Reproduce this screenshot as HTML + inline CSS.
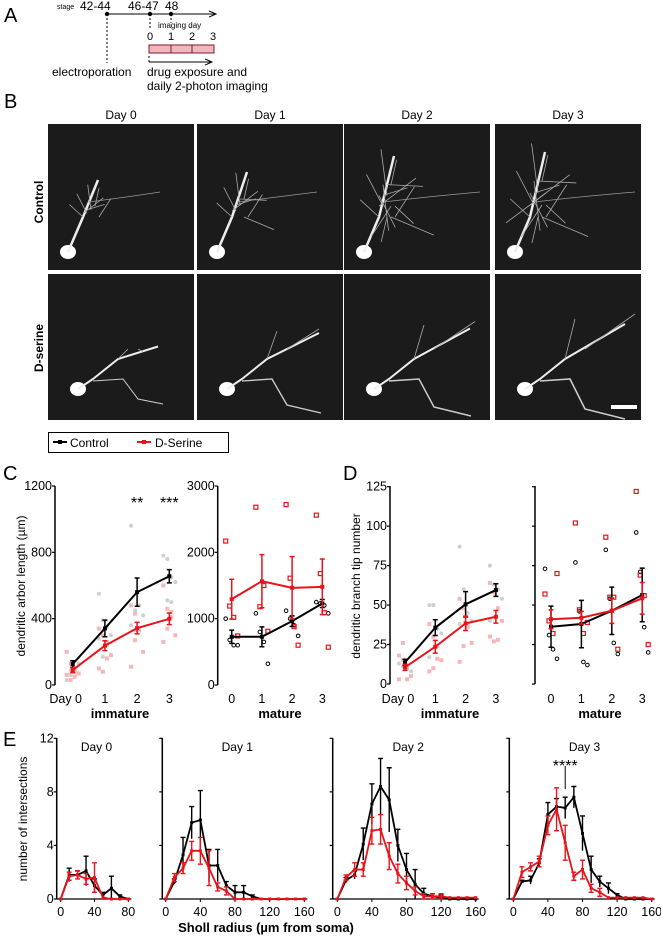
<!DOCTYPE html>
<html><head><meta charset="utf-8"><style>
html,body{margin:0;padding:0;background:#fff}
svg{display:block;font-family:"Liberation Sans",Arial,sans-serif}
</style></head><body>
<svg id="fig" width="661" height="936" viewBox="0 0 661 936" xmlns="http://www.w3.org/2000/svg">
<defs>
<marker id="arr" markerWidth="8" markerHeight="8" refX="7" refY="4" orient="auto"><path d="M0,1 L7,4 L0,7" fill="none" stroke="#000" stroke-width="1"/></marker>
</defs>
<!-- Panel A -->
<g>
<text x="4" y="22" font-size="20">A</text>
<text x="57" y="9" font-size="7">stage</text>
<text x="80" y="10" font-size="12">42-44</text>
<text x="128" y="10" font-size="12">46-47</text>
<text x="165" y="10" font-size="12">48</text>
<line x1="107" y1="14" x2="216" y2="14" stroke="#000" stroke-width="1" marker-end="url(#arr)"/>
<circle cx="107" cy="14" r="2.2" fill="#000"/><circle cx="150" cy="14" r="2.2" fill="#000"/><circle cx="171" cy="14" r="2.2" fill="#000"/>
<line x1="107" y1="14" x2="107" y2="63" stroke="#000" stroke-dasharray="2,2"/>
<line x1="150" y1="14" x2="150" y2="29" stroke="#000" stroke-dasharray="2,2"/>
<line x1="171" y1="14" x2="171" y2="23" stroke="#000" stroke-dasharray="2,2"/>
<text x="158" y="28" font-size="8">imaging day</text>
<text x="147" y="40" font-size="11">0</text><text x="168" y="40" font-size="11">1</text><text x="189" y="40" font-size="11">2</text><text x="210" y="40" font-size="11">3</text>
<rect x="149" y="45" width="65" height="8" fill="#f4b6bd" stroke="#7a1f2b" stroke-width="1"/>
<line x1="171" y1="45" x2="171" y2="53" stroke="#7a1f2b"/><line x1="192" y1="45" x2="192" y2="53" stroke="#7a1f2b"/>
<line x1="149" y1="56" x2="149" y2="63" stroke="#000" stroke-dasharray="2,2"/>
<line x1="149" y1="62" x2="212" y2="62" stroke="#000" marker-end="url(#arr)"/>
<text x="52" y="76" font-size="12">electroporation</text>
<text x="147" y="76" font-size="12">drug exposure and</text>
<text x="147" y="90" font-size="12">daily 2-photon imaging</text>
</g>
<!-- Panel B -->
<g id="panelB">
<text x="4" y="108" font-size="20">B</text>
<text transform="translate(43,202) rotate(-90)" font-size="12" font-weight="bold" text-anchor="middle">Control</text>
<text transform="translate(43,348) rotate(-90)" font-size="12" font-weight="bold" text-anchor="middle">D-serine</text>
</g>
<g id="panelC"></g>
<g id="panelD"></g>
<g id="panelE"></g>
<g>
<rect x="48.5" y="432.5" width="180" height="20" fill="#fff" stroke="#000" stroke-width="1"/>
<line x1="53" y1="442" x2="67" y2="442" stroke="#000" stroke-width="2"/><rect x="58" y="440" width="4" height="4" fill="#000"/>
<text x="70" y="447" font-size="12">Control</text>
<line x1="137" y1="442" x2="151" y2="442" stroke="#e8141b" stroke-width="2"/><rect x="142" y="440" width="4" height="4" fill="#e8141b"/>
<text x="155" y="447" font-size="12">D-Serine</text>
</g>
</svg>
<script>
// ---------- Panel C data ----------
const cDays = ["Day 0","1","2","3"];
const cMatDays = ["0","1","2","3"];
const cImmCtrl = [126,341,560,656];
const cImmCtrlErr = [20,50,85,40];
const cImmDs = [90,237,343,399];
const cImmDsErr = [15,30,35,35];
const cMatCtrl = [727,727,963,1229];
const cMatCtrlErr = [100,150,80,60];
const cMatDs = [1294,1565,1465,1480];
const cMatDsErr = [300,400,470,420];
const cImmTicks = [0,400,800,1200];
const cMatTicks = [0,1000,2000,3000];
const cImmCtrlPts = [[30,60,100,130,200,90],[550,390,350,300,280,170,240],[960,450,480,420,360,330],[780,760,650,620,600,510,500]];
const cImmDsPts = [[200,130,80,70,60,30,50],[340,300,260,180,100,80,160],[480,430,330,200,110,270],[600,460,440,300,260,340,410]];
const cMatCtrlPts = [[1000,680,600,600],[1080,800,650,320],[1120,1000,900,740],[1250,1230,1200,1080]];
const cMatDsPts = [[2170,1190,1020,740],[2680,1180,1500,810],[2720,1610,880,600],[2560,1680,1090,570]];
// ---------- Panel D data ----------
const dImmCtrl = [13.7,35.7,50.5,59.5];
const dImmCtrlErr = [2,5,8,4];
const dImmDs = [10.6,23.6,38.4,42.6];
const dImmDsErr = [2,4,4.5,4];
const dMatCtrl = [36.3,38,46.4,56.4];
const dMatCtrlErr = [13,15,15,17];
const dMatDs = [41,42,46.4,54.3];
const dMatDsErr = [6,4,8,10];
const dImmTicks = [0,25,50,75,100,125];
const dImmCtrlPts = [[13,11,3,8],[50,50,35,32,17],[87,60,45,40,38],[75,63,60,54,40]];
const dImmDsPts = [[18,15,10,5,3,26,3],[38,30,24,15,8,10,16],[54,48,36,26,14,24,38],[64,58,48,40,30,27,28]];
const dMatCtrlPts = [[73,31,22,16],[77,46,14,12],[85,54,26,19],[96,71,36,20]];
const dMatDsPts = [[57,40,32,70],[102,47,32,39],[93,55,55,22],[122,69,56,25]];
// ---------- Panel E data ----------
const eTitles = ["Day 0","Day 1","Day 2","Day 3"];
const eYTicks = [0,4,8,12];
const eCtrl = [
 [0,1.8,1.8,2.1,1.0,0.3,0.8,0.2,0],
 [0,1.3,3.3,5.7,5.9,2.5,2.5,1.0,0.5,0.5,0.2,0,0,0,0,0,0],
 [0,1.4,1.8,4.1,7.1,8.4,7.4,4.0,2.2,1.1,0.4,0.2,0.1,0,0,0,0],
 [0,1.3,1.4,2.7,6.3,6.9,6.8,7.6,4.9,2.2,1.3,0.8,0.3,0,0,0,0]];
const eCtrlErr = [
 [0,0.5,0.3,1.1,0.5,0.2,0.9,0.1,0],
 [0,0.2,1.3,1.2,2.2,1.2,1.2,0.3,0.5,0.5,0.1,0,0,0,0,0,0],
 [0,0.2,0.3,1.2,1.5,2.1,2.4,1.2,1.2,1.1,0.4,0.2,0.2,0,0,0,0],
 [0,0.1,0.3,0.3,0.9,0.6,0.8,0.8,1.3,1.0,0.4,0.4,0.1,0,0,0,0]];
const eDs = [
 [0,1.7,1.8,1.5,1.6,0.1,0,0,0],
 [0,1.6,2.3,3.6,3.6,2.3,0.9,0.6,0,0,0,0,0,0,0,0,0],
 [0,1.6,2.2,2.2,5.1,5.2,3.2,1.9,1.2,0.6,0.2,0.2,0.2,0.1,0.1,0.1,0.1],
 [0,2.0,2.4,2.8,5.5,6.7,4.2,1.7,2.2,0.8,0.5,0.1,0.1,0.1,0.1,0.1,0]];
const eDsErr = [
 [0,0.3,0.3,0.4,1.1,0,0,0,0],
 [0,0.3,0.4,0.7,1.0,1.3,0.3,0.3,0,0,0,0,0,0,0,0,0],
 [0,0.2,0.5,0.5,1.0,1.1,1.0,0.7,0.5,0.3,0.2,0.2,0.2,0,0,0,0],
 [0,0.4,0.3,0.4,0.7,1.6,1.3,0.3,0.7,0.3,0.3,0,0,0,0,0,0]];

const NS="http://www.w3.org/2000/svg";
const RED="#e8141b";
function mk(parent,tag,attrs,txt){const e=document.createElementNS(NS,tag);for(const k in attrs)e.setAttribute(k,attrs[k]);if(txt!==undefined)e.textContent=txt;parent.appendChild(e);return e;}
function lin(d0,d1,r0,r1){return v=>r0+(v-d0)/(d1-d0)*(r1-r0);}

// ---------- Panel B images ----------
(function(){
 const g=document.getElementById('panelB');
 const cols=[48,197,344,495], rows=[124,274], w=146, h=146;
 const titles=["Day 0","Day 1","Day 2","Day 3"];
 const growth=[[0.3,0.5,0.9,1.0],[0.5,0.8,0.9,1.0]];
 cols.forEach((x,ci)=>{
  const t=mk(g,'text',{x:x+w/2,y:119,'font-size':12,'text-anchor':'middle'},titles[ci]);
  
  
  rows.forEach((y,ri)=>{
   const r=mk(g,'rect',{x:x,y:y,width:w,height:h,fill:'#1b1b1b'});
   
   
   const s=growth[ri][ci];
   const sx=x+(ri?30:20), sy=y+(ri?115:128);
   mk(g,'ellipse',{cx:sx,cy:sy,rx:8,ry:7,fill:'#fff'});
   if(ri===0){
     const tx=sx+30, ty=sy-60-40*s;
     mk(g,'path',{d:`M${sx},${sy} L${sx+15},${sy-35} L${tx},${ty}`,stroke:'#eee','stroke-width':2.5,fill:'none'});
     for(let k=0;k<Math.round(3+12*s);k++){
       const a=-2.4+k*0.35, L=15+35*s*((k%3)+1)/3;
       const bx=sx+15+(k%5)*4, by=sy-35-(k%4)*12*s;
       mk(g,'path',{d:`M${bx},${by} l${Math.cos(a)*L},${Math.sin(a)*L}`,stroke:'#aaa','stroke-width':0.8,fill:'none'});
     }
     mk(g,'path',{d:`M${sx+20},${sy-50} q40,-5 ${60+40*s},-10`,stroke:'#999','stroke-width':0.8,fill:'none'});
   } else {
     mk(g,'path',{d:`M${sx},${sy} L${sx+15},${sy-10} L${sx+40},${sy-30} L${sx+60+40*s},${sy-45*s-20}`,stroke:'#eee','stroke-width':2,fill:'none'});
     mk(g,'path',{d:`M${sx+15},${sy-8} L${sx+45},${sy-10} L${sx+60},${sy+20*s} L${sx+70+30*s},${sy+30*s}`,stroke:'#ccc','stroke-width':1.2*s+0.4,fill:'none'});
     mk(g,'path',{d:`M${sx+40},${sy-30} L${sx+50},${sy-60*s-10} M${sx+60},${sy-40} L${sx+90*s+20},${sy-75*s}`,stroke:'#aaa','stroke-width':0.8,fill:'none'});
   }
  });
 });
 const sb=mk(g,'rect',{x:611,y:405,width:26,height:4,fill:'#fff'});
 
 
})();

function scatter(g,xs,pts,y,type,color){
 pts.forEach((arr,i)=>arr.forEach((v,j)=>{
  const jx=xs(i)+((j%4)-1.5)*4;
  if(type==='dot'){const c=mk(g,'circle',{cx:jx,cy:y(v),r:2,fill:color});}
  else if(type==='sq'){const c=mk(g,'rect',{x:jx-2,y:y(v)-2,width:4,height:4,fill:color});}
  else if(type==='osq'){const c=mk(g,'rect',{x:jx-2,y:y(v)-2,width:4,height:4,fill:'none',stroke:RED,'stroke-width':1.2});}
  else {const c=mk(g,'circle',{cx:jx,cy:y(v),r:1.8,fill:'none',stroke:'#000','stroke-width':1});}
 }));
}
function series(g,xs,vals,errs,y,color,name){
 vals.forEach((v,i)=>{
  const e=mk(g,'path',{d:`M${xs(i)},${y(v-errs[i])} V${y(v+errs[i])} M${xs(i)-2.5},${y(v-errs[i])} h5 M${xs(i)-2.5},${y(v+errs[i])} h5`,stroke:color,'stroke-width':1.5,fill:'none'});
  
  
 });
 const p=mk(g,'polyline',{points:vals.map((v,i)=>xs(i)+','+y(v)).join(' '),fill:'none',stroke:color,'stroke-width':2});
 
 
 vals.forEach((v,i)=>{const m=mk(g,'rect',{x:xs(i)-2,y:y(v)-2,width:4,height:4,fill:color});
  
  });
}
function yaxis(g,x,y,ticks,top,bot,labels){
 mk(g,'line',{x1:x,y1:top,x2:x,y2:bot,stroke:'#000','stroke-width':1.5});
 ticks.forEach(t=>{mk(g,'line',{x1:x-3,y1:y(t),x2:x,y2:y(t),stroke:'#000','stroke-width':1.2});
  if(labels){const tl=mk(g,'text',{x:x-3,y:y(t)+4,'font-size':12.5,'text-anchor':'end'},t);
   
   }});
}
function xlabels(g,xs,labs,yy){labs.forEach((l,i)=>{const t=mk(g,'text',{x:xs(i)+(l==='Day 0'?-7:0),y:yy,'font-size':12.5,'text-anchor':'middle'},l);
 
 });}

// ---------- Panel C ----------
(function(){
 const g=document.getElementById('panelC');
 mk(g,'text',{x:3,y:480,'font-size':20},'C');
 const yI=lin(0,1200,685,486), yM=lin(0,3000,685,486);
 const xI=i=>72.7+i*32.2, xM=i=>231.7+i*30.2;
 yaxis(g,55,yI,cImmTicks,486,685,true);
 yaxis(g,217.7,yM,cMatTicks,486,685,true);
 scatter(g,xI,cImmCtrlPts,yI,'dot','#cfcfcf');
 scatter(g,xI,cImmDsPts,yI,'sq','#f7b7b9');
 scatter(g,xM,cMatCtrlPts,yM,'ocirc');
 scatter(g,xM,cMatDsPts,yM,'osq');
 series(g,xI,cImmCtrl,cImmCtrlErr,yI,'#000','c-immature-control');
 series(g,xI,cImmDs,cImmDsErr,yI,RED,'c-immature-dserine');
 series(g,xM,cMatCtrl,cMatCtrlErr,yM,'#000','c-mature-control');
 series(g,xM,cMatDs,cMatDsErr,yM,RED,'c-mature-dserine');
 xlabels(g,xI,cDays,703); xlabels(g,xM,cMatDays,703);
 mk(g,'text',{x:120,y:718,'font-size':13,'font-weight':'bold','text-anchor':'middle'},'immature');
 mk(g,'text',{x:280,y:718,'font-size':13,'font-weight':'bold','text-anchor':'middle'},'mature');
 mk(g,'text',{transform:'translate(25,586) rotate(-90)','font-size':12,'text-anchor':'middle'},'dendritic arbor length (µm)');
 mk(g,'text',{x:xI(2),y:508,'font-size':16,'text-anchor':'middle'},'**');
 mk(g,'text',{x:xI(3),y:508,'font-size':16,'text-anchor':'middle'},'***');
})();
// ---------- Panel D ----------
(function(){
 const g=document.getElementById('panelD');
 mk(g,'text',{x:343,y:480,'font-size':20},'D');
 const y=lin(0,125,684,486.7);
 const xI=i=>405+i*30.3, xM=i=>551+i*30.4;
 yaxis(g,390,y,dImmTicks,486,684,true);
 yaxis(g,535,y,dImmTicks,486,684,false);
 scatter(g,xI,dImmCtrlPts,y,'dot','#cfcfcf');
 scatter(g,xI,dImmDsPts,y,'sq','#f7b7b9');
 scatter(g,xM,dMatCtrlPts,y,'ocirc');
 scatter(g,xM,dMatDsPts,y,'osq');
 series(g,xI,dImmCtrl,dImmCtrlErr,y,'#000','d-immature-control');
 series(g,xI,dImmDs,dImmDsErr,y,RED,'d-immature-dserine');
 series(g,xM,dMatCtrl,dMatCtrlErr,y,'#000','d-mature-control');
 series(g,xM,dMatDs,dMatDsErr,y,RED,'d-mature-dserine');
 xlabels(g,xI,cDays,703); xlabels(g,xM,cMatDays,703);
 mk(g,'text',{x:450,y:718,'font-size':13,'font-weight':'bold','text-anchor':'middle'},'immature');
 mk(g,'text',{x:600,y:718,'font-size':13,'font-weight':'bold','text-anchor':'middle'},'mature');
 mk(g,'text',{transform:'translate(360,586) rotate(-90)','font-size':12,'text-anchor':'middle'},'dendritic branch tip number');
})();
// ---------- Panel E ----------
(function(){
 const g=document.getElementById('panelE');
 mk(g,'text',{x:3,y:746,'font-size':20},'E');
 const y=lin(0,12,899,738.3);
 const panels=[{ax:56.7,x0:60.7,x1:128.3,max:80,ticks:[0,40,80]},
   {ax:162.3,x0:165.7,x1:304.3,max:160,ticks:[0,40,80,120,160]},
   {ax:332.7,x0:337.3,x1:475.7,max:160,ticks:[0,40,80,120,160]},
   {ax:509.3,x0:513.3,x1:651.7,max:160,ticks:[0,40,80,120,160]}];
 panels.forEach((p,pi)=>{
  const xs=lin(0,p.max,p.x0,p.x1);
  yaxis(g,p.ax,y,eYTicks,738,899,pi===0);
  mk(g,'line',{x1:p.ax,y1:899,x2:p.x1+3,y2:899,stroke:'#000','stroke-width':1.2});
  p.ticks.forEach(t=>{mk(g,'line',{x1:xs(t),y1:899,x2:xs(t),y2:902,stroke:'#000'});
   const tl=mk(g,'text',{x:xs(t),y:916,'font-size':12.5,'text-anchor':'middle'},t);
   
   });
  const tt=mk(g,'text',{x:(p.ax+p.x1)/2+4,y:751,'font-size':12,'text-anchor':'middle'},eTitles[pi]);
  
  
  [[eCtrl[pi],eCtrlErr[pi],'#000','control'],[eDs[pi],eDsErr[pi],RED,'dserine']].forEach(([vals,errs,col,nm])=>{
   const xv=i=>xs(i*10);
   vals.forEach((v,i)=>{if(errs[i]>0){
    const e=mk(g,'path',{d:`M${xv(i)},${y(v-errs[i])} V${y(v+errs[i])} M${xv(i)-2.5},${y(v+errs[i])} h5`+(col===RED?` M${xv(i)-2.5},${y(v-errs[i])} h5`:''),stroke:col,'stroke-width':1.4,fill:'none'});
    
    }});
   const pl=mk(g,'polyline',{points:vals.map((v,i)=>xv(i)+','+y(v)).join(' '),fill:'none',stroke:col,'stroke-width':1.8});
   
   
   vals.forEach((v,i)=>mk(g,'rect',{x:xv(i)-1.5,y:y(v)-1.5,width:3,height:3,fill:col}));
  });
  if(pi===3){
   mk(g,'text',{x:xs(60),y:771,'font-size':16,'text-anchor':'middle'},'****');
   mk(g,'line',{x1:xs(60),y1:766,x2:xs(60),y2:789,stroke:'#000'});
  }
 });
 mk(g,'text',{transform:'translate(27,819) rotate(-90)','font-size':12,'text-anchor':'middle'},'number of intersections');
 mk(g,'text',{x:266,y:932,'font-size':13,'font-weight':'bold','text-anchor':'middle'},'Sholl radius (µm from soma)');
})();
</script>
</body></html>
